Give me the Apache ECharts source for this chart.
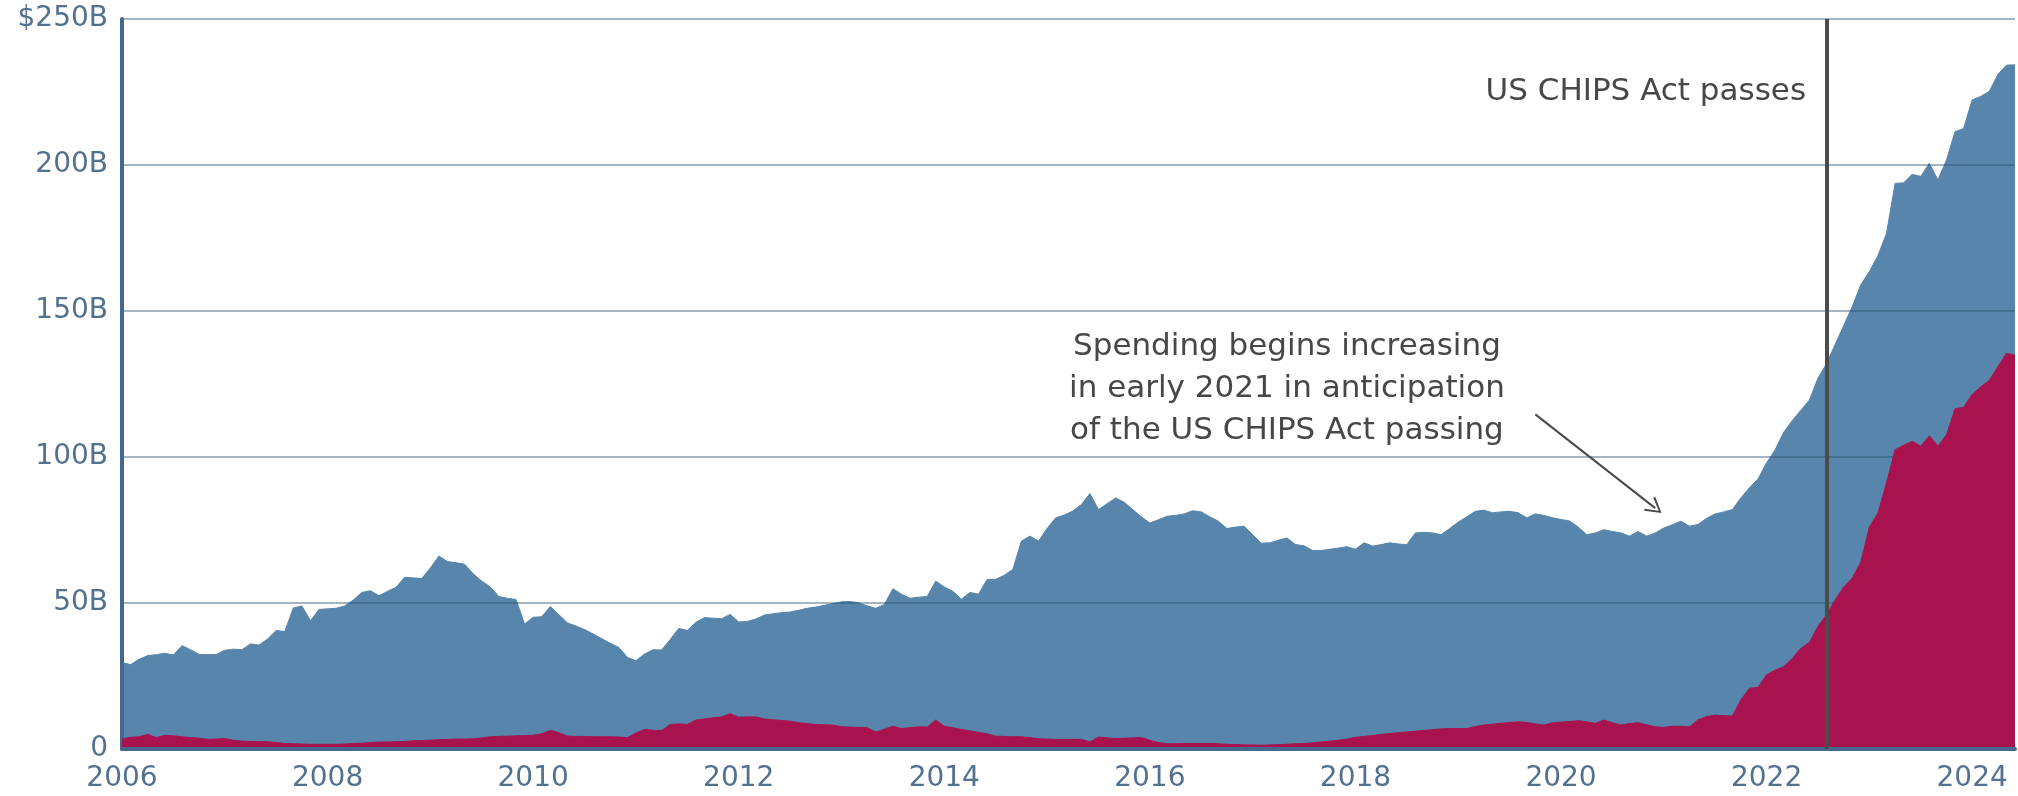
<!DOCTYPE html>
<html><head><meta charset="utf-8">
<script src="https://cdn.jsdelivr.net/npm/echarts@6/dist/echarts.min.js"></script>
<style>html,body{margin:0;padding:0;background:#ffffff}#c{width:2018px;height:796px}</style>
</head><body><div id="c"></div>
<script>
// ---- categories: monthly, Jan 2006 .. Jun 2024 ----
const startYear = 2006;
const monthCount = 222;
const months = [];
for (let i = 0; i < monthCount; i++) {
  months.push((startYear + Math.floor(i / 12)) + '-' + String(i % 12 + 1).padStart(2, '0'));
}
const yTickValues = [0, 50, 100, 150, 200, 250];

// ---- series values (billions of dollars) ----
const totalManufacturing = [
  29.6, 28.9, 30.7, 32.0, 32.3, 32.8, 32.2, 35.4, 34.0, 32.4, 32.3, 32.4,
  33.8, 34.2, 34.0, 36.0, 35.6, 37.7, 40.6, 40.2, 48.3, 49.0, 43.9, 47.8,
  48.0, 48.2, 49.0, 51.0, 53.6, 54.2, 52.5, 54.0, 55.4, 58.8, 58.6, 58.4,
  62.0, 66.1, 64.2, 63.8, 63.3, 60.0, 57.5, 55.5, 52.2, 51.6, 51.2, 42.8,
  45.1, 45.3, 48.8, 46.0, 43.2, 42.1, 40.9, 39.4, 37.8, 36.2, 34.8, 31.4,
  30.2, 32.5, 34.0, 33.9, 37.5, 41.3, 40.6, 43.4, 45.0, 44.8, 44.6, 46.1,
  43.5, 43.7, 44.5, 45.9, 46.3, 46.7, 46.9, 47.5, 48.2, 48.6, 49.2, 49.8,
  50.4, 50.5, 50.1, 49.0, 48.2, 49.5, 54.9, 53.0, 51.6, 52.0, 52.2, 57.5,
  55.5, 54.0, 51.3, 53.6, 53.0, 58.1, 58.1, 59.5, 61.5, 71.2, 72.9, 71.2,
  75.5, 79.2, 80.1, 81.5, 83.7, 87.5, 82.0, 84.0, 86.0, 84.5, 82.0, 79.5,
  77.4, 78.5, 79.7, 80.0, 80.5, 81.6, 81.2, 79.5, 78.0, 75.5, 76.0, 76.3,
  73.4, 70.5, 70.6, 71.5, 72.3, 70.0, 69.6, 68.0, 68.0, 68.4, 68.8, 69.3,
  68.4, 70.6, 69.5, 70.0, 70.6, 70.2, 70.0, 74.0, 74.2, 74.0, 73.4, 75.5,
  77.7, 79.5, 81.4, 81.8, 80.9, 81.2, 81.4, 80.9, 79.2, 80.5, 80.0, 79.2,
  78.6, 78.1, 76.0, 73.4, 74.0, 75.1, 74.5, 74.0, 72.9, 74.5, 72.9, 74.0,
  75.7, 76.8, 78.0, 76.3, 76.9, 79.0, 80.5, 81.2, 82.0, 86.0, 89.5, 92.5,
  98.0, 102.5, 108.5, 112.5, 116.0, 119.5, 127.0, 132.0, 138.5, 145.0, 151.5, 159.0,
  163.5, 169.0, 176.6, 193.7, 193.9, 196.8, 196.1, 200.6, 194.9, 201.7, 211.4, 212.5,
  222.3, 223.5, 225.2, 231.0, 234.2, 234.3
];
const computerElectronic = [
  3.5, 4.0, 4.2, 5.0, 3.9, 4.7, 4.5, 4.2, 3.9, 3.7, 3.3, 3.4,
  3.6, 3.0, 2.7, 2.6, 2.5, 2.5, 2.2, 1.9, 1.8, 1.7, 1.6, 1.6,
  1.6, 1.6, 1.7, 1.9, 2.0, 2.2, 2.4, 2.4, 2.5, 2.6, 2.8, 2.9,
  3.0, 3.2, 3.3, 3.4, 3.4, 3.5, 3.8, 4.2, 4.3, 4.4, 4.5, 4.6,
  4.7, 5.2, 6.4, 5.6, 4.4, 4.3, 4.3, 4.2, 4.2, 4.2, 4.1, 3.9,
  5.5, 6.7, 6.4, 6.3, 8.4, 8.6, 8.4, 9.9, 10.3, 10.7, 11.0, 12.1,
  10.9, 11.0, 11.0, 10.3, 10.0, 9.8, 9.5, 9.0, 8.7, 8.4, 8.3, 8.2,
  7.6, 7.5, 7.4, 7.3, 5.8, 6.8, 7.8, 7.0, 7.3, 7.6, 7.5, 9.9,
  7.8, 7.3, 6.7, 6.2, 5.7, 5.2, 4.4, 4.3, 4.2, 4.2, 3.9, 3.5,
  3.4, 3.3, 3.3, 3.3, 3.3, 2.4, 4.1, 3.8, 3.6, 3.7, 3.8, 3.9,
  3.0, 2.2, 1.8, 1.8, 1.9, 1.9, 1.9, 1.9, 1.8, 1.6, 1.5, 1.4,
  1.4, 1.3, 1.4, 1.5, 1.6, 1.8, 1.9, 2.1, 2.4, 2.7, 3.0, 3.4,
  4.0, 4.3, 4.6, 5.0, 5.3, 5.6, 5.8, 6.1, 6.4, 6.6, 6.9, 7.0,
  7.0, 7.0, 7.7, 8.2, 8.5, 8.8, 9.1, 9.3, 9.1, 8.6, 8.2, 9.0,
  9.2, 9.4, 9.7, 9.3, 8.8, 9.9, 9.0, 8.2, 8.7, 9.0, 8.3, 7.6,
  7.4, 7.8, 7.8, 7.6, 10.0, 11.1, 11.6, 11.4, 11.3, 16.8, 20.8, 21.1,
  25.4, 27.0, 28.2, 31.0, 34.5, 36.5, 42.0, 46.0, 51.0, 55.5, 58.5, 64.0,
  76.0, 80.8, 91.1, 102.5, 104.0, 105.4, 103.7, 107.3, 103.7, 107.6, 116.5, 117.0,
  121.5, 124.0, 126.3, 130.9, 135.5, 134.9
];

// ---- annotations (anchored in data space) ----
const chipsMonth = '2022-08';
const chipsLabel = 'US CHIPS Act passes';
const chipsLabelValue = 225;
const noteLines = ['Spending begins increasing', 'in early 2021 in anticipation', 'of the US CHIPS Act passing'];
const noteAnchor = ['2017-05', 123.2];
const arrowFrom = ['2019-10', 114.6];
const arrowTo = ['2020-12', 82.5];

const FONT = 'DejaVu Sans';
const chart = echarts.init(document.getElementById('c'), null, {renderer: 'canvas'});
const chevron = 'path://M0,10 L5,0 L10,10 L8.9,10.6 L5,2.4 L1.1,10.6 Z';

chart.setOption({
  animation: false,
  backgroundColor: '#ffffff',
  grid: {left: 122, right: 3, top: 19, bottom: 47, containLabel: false},
  xAxis: {
    type: 'category',
    data: months,
    boundaryGap: false,
    z: 4,
    axisLine: {show: true, lineStyle: {color: '#44698c', width: 4}},
    axisTick: {show: false},
    splitLine: {show: false},
    axisLabel: {
      interval: (idx) => idx % 24 === 0,
      formatter: (v) => v.slice(0, 4),
      color: '#52718f', fontSize: 28, fontFamily: FONT, margin: 16
    }
  },
  yAxis: {
    type: 'value',
    min: yTickValues[0], max: yTickValues[yTickValues.length - 1], interval: 50,
    z: 2,
    axisLine: {show: true, lineStyle: {color: '#44698c', width: 4}},
    axisTick: {show: false},
    splitLine: {show: true, lineStyle: {color: 'rgba(40,80,110,0.42)', width: 2}},
    axisLabel: {
      formatter: (v) => v === 250 ? '$250B' : (v === 0 ? '0' : v + 'B'),
      color: '#52718f', fontSize: 28, fontFamily: FONT, margin: 14
    }
  },
  series: [
    {
      name: 'Total manufacturing', type: 'line', data: totalManufacturing, z: 1,
      symbol: 'none', silent: true,
      lineStyle: {color: '#5885ab', width: 1},
      areaStyle: {color: '#5885ab', opacity: 1}
    },
    {
      name: 'Computer, electronic and electrical', type: 'line', data: computerElectronic, z: 3,
      symbol: 'none', silent: true,
      lineStyle: {color: '#a8134f', width: 1},
      areaStyle: {color: '#a8134f', opacity: 1}
    },
    {
      name: 'annotations', type: 'line', data: [], z: 5, silent: true,
      markLine: {
        silent: true, animation: false,
        symbol: ['none', 'none'],
        label: {show: false},
        data: [
          [
            {coord: [chipsMonth, 0], symbol: 'none', lineStyle: {color: '#4b4b4b', width: 4, type: 'solid'}},
            {coord: [chipsMonth, 250], symbol: 'none'}
          ],
          [
            {coord: arrowFrom, symbol: 'none', lineStyle: {color: '#4a4a4a', width: 2, type: 'solid', curveness: 0.25}},
            {coord: arrowTo, symbol: chevron, symbolSize: [18, 16]}
          ]
        ]
      },
      markPoint: {
        silent: true, animation: false,
        symbol: 'circle', symbolSize: 1,
        itemStyle: {color: 'rgba(0,0,0,0)'},
        data: [
          {coord: [chipsMonth, chipsLabelValue],
           label: {show: true, position: 'left', distance: 20, formatter: chipsLabel,
                   color: '#474747', fontSize: 31, fontFamily: FONT}},
          {coord: noteAnchor,
           label: {show: true, position: 'inside', formatter: noteLines.join('\n'), align: 'center',
                   lineHeight: 42, color: '#474747', fontSize: 31, fontFamily: FONT}}
        ]
      }
    }
  ]
});
</script></body></html>
